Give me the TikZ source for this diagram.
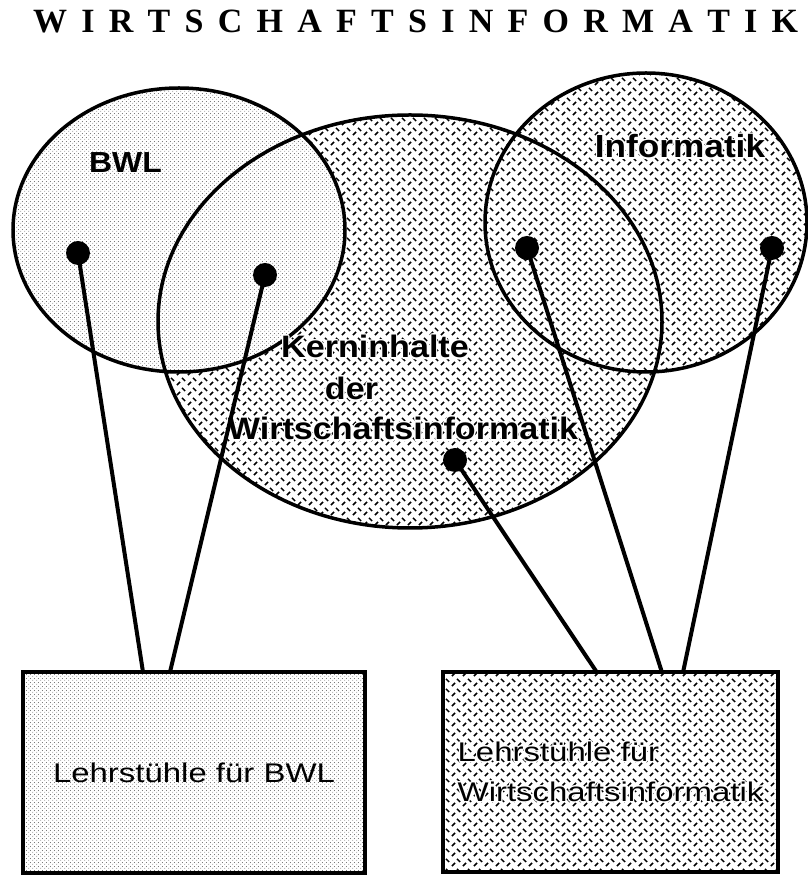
\documentclass[tikz,border=0pt]{standalone}
\usepackage{fontspec}
\setmainfont{Liberation Serif}
\newfontfamily\boxfont[FakeStretch=1.22]{Liberation Sans}
\newfontfamily\labelfont[FakeStretch=1.1]{Liberation Sans}
\usepackage{contour}
\contourlength{1.2pt}
\contournumber{12}
\usetikzlibrary{patterns.meta}

% Punktraster und Riffelblech-Raster
\tikzdeclarepattern{
  name=stipple,
  bounding box={(0pt,0pt) and (4pt,4pt)},
  tile size={(4pt,4pt)},
  code={
    \fill (1pt,1pt) circle [radius=0.55pt];
    \fill (3pt,3pt) circle [radius=0.55pt];
  }
}
\tikzdeclarepattern{
  name=dashplate,
  bounding box={(0pt,0pt) and (11pt,10pt)},
  tile size={(11pt,10pt)},
  code={
    \draw[line width=1.6pt] (1pt,1pt) -- (4.5pt,4.5pt);
    \draw[line width=1.6pt] (6.5pt,9pt) -- (10pt,5.5pt);
  }
}

\tikzset{
  rim/.style={line width=3.5pt},
  stippled/.style={preaction={fill=white}, pattern=stipple, pattern color=black!70},
  plated/.style={preaction={fill=white}, pattern=dashplate, pattern color=black},
  chairbox/.style={draw, rectangle, line width=4pt, inner sep=12pt, outer sep=0pt,
    font=\boxfont\fontsize{27}{40}\selectfont},
  setlabel/.style={anchor=base, inner sep=0pt, font=\labelfont\bfseries\fontsize{31}{41}\selectfont},
  stud/.style={circle, fill=black, inner sep=0pt, minimum size=24pt},
  link/.style={line width=4pt},
}

\begin{document}
\begin{tikzpicture}[x=1pt, y=1pt]
    \useasboundingbox (0,0) rectangle (808,876);

    % Überschrift, gesperrt gesetzt
    \node[anchor=base west, inner sep=0pt, font=\bfseries\fontsize{34}{40}\selectfont] (titel) at (33,843)
        {\makebox[765pt][s]{W\hfil I\hfil R\hfil T\hfil S\hfil C\hfil H\hfil A\hfil F\hfil T\hfil S\hfil I\hfil N\hfil F\hfil O\hfil R\hfil M\hfil A\hfil T\hfil I\hfil K}};

    % Flächen: Kern und Informatik geriffelt, BWL gepunktet darüber
    \path[plated] (410,554.5) ellipse [x radius=252, y radius=206.5];
    \path[plated] (646,653.5) ellipse [x radius=161, y radius=149.5];
    \path[stippled] (179,646) ellipse [x radius=166, y radius=142];

    % Umrisse
    \draw[rim] (410,554.5) ellipse [x radius=252, y radius=206.5];
    \draw[rim] (646,653.5) ellipse [x radius=161, y radius=149.5];
    \draw[rim] (179,646) ellipse [x radius=166, y radius=142];

    \node[setlabel, font=\labelfont\bfseries\fontsize{29}{35}\selectfont] (bwl) at (125.5,703) {BWL};
    \node[setlabel, font=\labelfont\bfseries\fontsize{32}{38}\selectfont] (inf) at (680,718) {\contour{white}{Informatik}};
    \node[setlabel] (kern) at (375,518) {\contour{white}{Kerninhalte}};
    \node[setlabel] (kernder) at (351.5,476) {\contour{white}{der}};
    \node[setlabel] (kernwi) at (403,436) {\contour{white}{Wirtschaftsinformatik}};

    % Lehrstühle
    \node[chairbox, stippled, minimum width=342pt, minimum height=201pt] (lehrbwl) at (194,103.5)
        {Lehrstühle für BWL};
    \node[chairbox, plated, align=left, minimum width=335pt, minimum height=200pt] (lehrwi) at (610.5,103.5)
        {\contour{white}{Lehrstühle für}\\\contour{white}{Wirtschaftsinformatik}};

    % Zuordnungen
    \node[stud] (bwlA) at (78,623) {};
    \node[stud] (bwlB) at (265,601) {};
    \node[stud] (infA) at (527,628) {};
    \node[stud] (infB) at (772,628) {};
    \node[stud] (kernA) at (455,416) {};
    \draw[link] (bwlA.center) -- ([xshift=120pt]lehrbwl.north west);
    \draw[link] (bwlB.center) -- ([xshift=147pt]lehrbwl.north west);
    \draw[link] (kernA.center) -- ([xshift=154pt]lehrwi.north west);
    \draw[link] (infA.center) -- ([xshift=219pt]lehrwi.north west);
    \draw[link] (infB.center) -- ([xshift=240pt]lehrwi.north west);
\end{tikzpicture}
\end{document}
